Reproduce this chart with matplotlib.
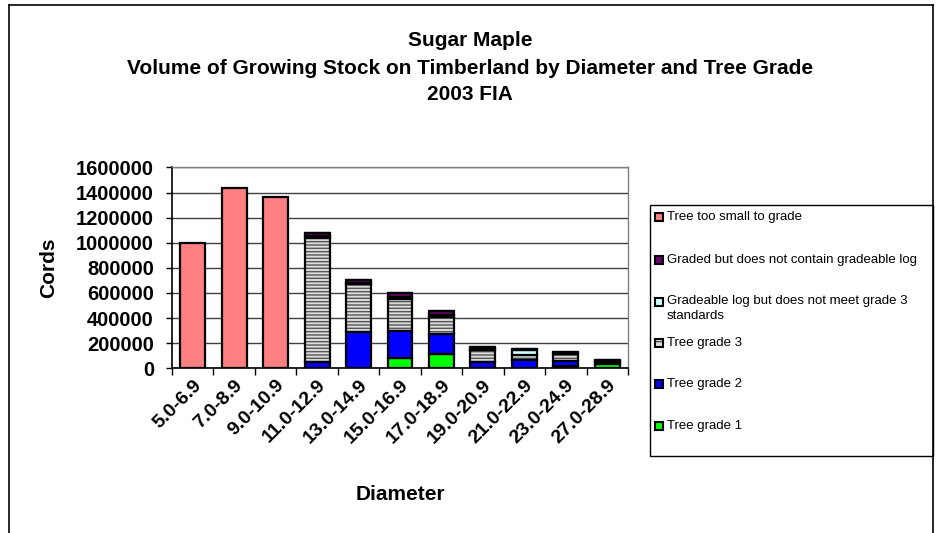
import matplotlib
matplotlib.use('Agg')
import matplotlib.pyplot as plt
import numpy as np
from matplotlib.patches import Rectangle
from matplotlib.lines import Line2D

plt.rcParams['font.family'] = ['Liberation Sans', 'DejaVu Sans']

categories = ['5.0-6.9', '7.0-8.9', '9.0-10.9', '11.0-12.9', '13.0-14.9', '15.0-16.9',
              '17.0-18.9', '19.0-20.9', '21.0-22.9', '23.0-24.9', '27.0-28.9']
grade1    = [0, 0, 0, 0,      0,      82000,  114000, 5000,   5000,   20000, 35000]
grade2    = [0, 0, 0, 50000,  293000, 215000, 159000, 49000,  65000,  42000, 18000]
grade3    = [0, 0, 0, 990000, 375000, 255000, 136000, 88000,  32000,  48000, 6000]
below3    = [0, 0, 0, 16000,  12000,  16000,  12000,  10000,  44000,  7000,  3000]
no_log    = [0, 0, 0, 22000,  20000,  34000,  39000,  20000,  10000,  10000, 4000]
too_small = [1000000, 1439000, 1365000, 0, 0, 0, 0, 0, 0, 0, 0]
yticks = [0, 200000, 400000, 600000, 800000, 1000000, 1200000, 1400000, 1600000]

W, H = 938, 533
fig = plt.figure(figsize=(W / 100, H / 100), dpi=100)
fx = lambda px: px / W
fy = lambda py: 1 - py / H

ax = fig.add_axes([fx(172), fy(368.3), fx(628) - fx(172), fy(167.5) - fy(368.3)])
x = np.arange(len(categories))

series = [
    (grade1, 'Tree grade 1', '#00FF00', None),
    (grade2, 'Tree grade 2', '#0000FF', None),
    (grade3, 'Tree grade 3', '#DCDCDC', '-----'),
    (below3, 'Gradeable log but does not meet grade 3\nstandards', '#CCFFFF', None),
    (no_log, 'Graded but does not contain gradeable log', '#660066', None),
    (too_small, 'Tree too small to grade', '#FF8080', None),
]
bottom = np.zeros(len(x))
for vals, label, color, hatch in series:
    v = np.array(vals, float)
    if hatch:
        ax.bar(x, v, 0.6, bottom=bottom, color=color, edgecolor='#555555',
               hatch=hatch, linewidth=0, zorder=3)
        ax.bar(x, v, 0.6, bottom=bottom, fill=False, edgecolor='black',
               linewidth=1.6, zorder=4)
    else:
        ax.bar(x, v, 0.6, bottom=bottom, color=color, edgecolor='black',
               linewidth=1.6, zorder=4)
    bottom += v

ax.set_xlim(-0.5, len(x) - 0.5)
ax.set_ylim(0, 1600000)
ax.set_yticks(yticks)
ax.set_yticklabels([str(t) for t in yticks], fontsize=14.5, fontweight='bold')
ax.yaxis.grid(True, color='#404040', linewidth=1)
ax.set_axisbelow(True)
ax.tick_params(axis='y', length=4, direction='out', pad=9, width=1)

ax.set_xticks(x)
ax.set_xticklabels(categories, rotation=45, ha='right', va='top',
                   rotation_mode='anchor', fontsize=14, fontweight='bold')
ax.tick_params(axis='x', which='major', length=0, pad=6)
ax.set_xticks(np.arange(-0.5, len(x), 1), minor=True)
ax.tick_params(axis='x', which='minor', length=5, direction='out', width=1)

for s in ['left', 'bottom']:
    ax.spines[s].set_color('black')
    ax.spines[s].set_linewidth(1.2)
for s in ['top', 'right']:
    ax.spines[s].set_color('#808080')
    ax.spines[s].set_linewidth(1)

ax.set_ylabel('Cords', fontsize=15, fontweight='bold')
ax.yaxis.set_label_coords((58 - 172) / 456, 0.5)
ax.set_xlabel('Diameter', fontsize=15, fontweight='bold')
ax.xaxis.set_label_coords((400 - 172) / 456, (368.3 - 485) / 200.8)

# Titles
tx = 470
fig.text(fx(tx), fy(40), 'Sugar Maple', ha='center', va='center', fontsize=15, fontweight='bold')
fig.text(fx(tx), fy(68), 'Volume of Growing Stock on Timberland by Diameter and Tree Grade',
         ha='center', va='center', fontsize=15, fontweight='bold')
fig.text(fx(tx), fy(95), '2003 FIA', ha='center', va='center', fontsize=15, fontweight='bold')

# Chart-area frame
for (x0, y0, x1, y1) in [(9, 5, 9, 533), (9, 5, 933, 5), (933, 5, 933, 533)]:
    fig.add_artist(Line2D([fx(x0), fx(x1)], [fy(y0), fy(y1)], color='black', lw=1.2,
                          transform=fig.transFigure))

# Legend (manual, evenly spaced like the original)
fig.add_artist(Rectangle((fx(650), fy(456)), fx(933) - fx(650), fy(205) - fy(456),
                         transform=fig.transFigure, fill=False, edgecolor='black', lw=1))
ys = [216.7, 260, 301.7, 343.3, 384, 426]
for (vals, label, color, hatch), yc in zip(series[::-1], ys):
    sz = 8
    if hatch:
        fig.add_artist(Rectangle((fx(655), fy(yc + sz / 2)), sz / W, sz / H, transform=fig.transFigure,
                                 facecolor=color, edgecolor='#555555', hatch='---', lw=0))
        fig.add_artist(Rectangle((fx(655), fy(yc + sz / 2)), sz / W, sz / H, transform=fig.transFigure,
                                 fill=False, edgecolor='black', lw=1.5))
    else:
        fig.add_artist(Rectangle((fx(655), fy(yc + sz / 2)), sz / W, sz / H, transform=fig.transFigure,
                                 facecolor=color, edgecolor='black', lw=1.5))
    if '\n' in label:
        fig.text(fx(667), fy(yc - 7), label, ha='left', va='top', fontsize=9.5, linespacing=1.35)
    else:
        fig.text(fx(667), fy(yc), label, ha='left', va='center', fontsize=9.5)

fig.savefig('out.png', dpi=100)
